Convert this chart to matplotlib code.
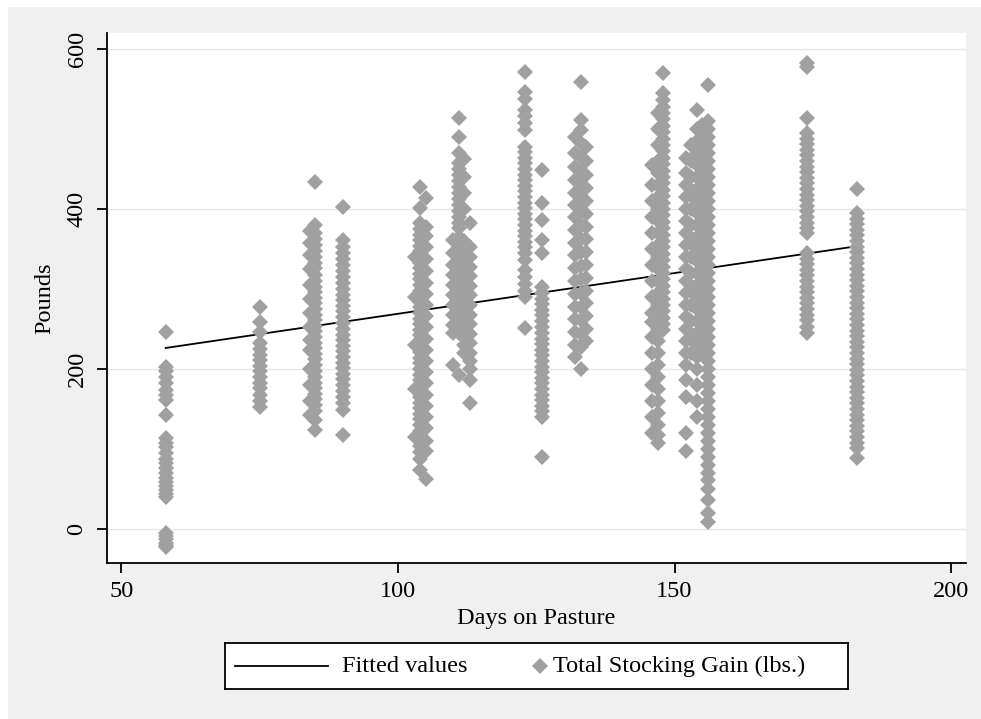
import matplotlib
matplotlib.use("Agg")
import matplotlib.pyplot as plt
from matplotlib.patches import Rectangle

plt.rcParams['font.family'] = ['Liberation Serif', 'DejaVu Serif']

# total stocking gain (lbs.) grouped by days on pasture
gain_58 = [246, 203, 197, 190, 183, 174, 167, 161, 142, 114, 108, 103, 95, 88, 82, 76,
           70, 64, 59, 54, 49, 44, 40, -5, -9, -13, -17, -20, -22]
gain_75 = [278, 259, 246, 232, 225, 218, 211, 204, 197, 190, 183, 176, 168, 160, 153]
gain_84 = [372, 358, 342, 325, 305, 288, 270, 252, 236, 224, 200, 180, 160, 142]
gain_85 = [434, 380, 370, 362, 355, 348, 340, 333, 326, 318, 310, 302, 296, 289, 282,
           275, 268, 261, 254, 247, 240, 233, 226, 219, 212, 205, 198, 190, 183, 176,
           169, 162, 155, 148, 136, 124]
gain_90 = [403, 361, 352, 345, 338, 330, 322, 315, 307, 300, 293, 286, 279, 272, 265,
           258, 250, 243, 236, 229, 222, 215, 208, 201, 194, 187, 180, 172, 165, 157,
           149, 117]
gain_103 = [340, 290, 230, 175, 115]
gain_104 = [428, 401, 382, 375, 368, 361, 354, 347, 340, 333, 326, 319, 312, 305, 298,
            291, 284, 277, 270, 263, 256, 249, 242, 235, 228, 221, 214, 207, 200, 193,
            186, 179, 172, 165, 158, 151, 144, 137, 130, 122, 113, 104, 96, 88, 74]
gain_105 = [414, 378, 366, 352, 338, 322, 308, 294, 280, 266, 252, 238, 224, 210, 196,
            182, 168, 154, 140, 126, 110, 98, 62]
gain_110 = [361, 345, 330, 318, 305, 292, 280, 268, 255, 245, 205]
gain_111 = [514, 490, 470, 458, 450, 442, 435, 428, 420, 412, 405, 398, 390, 383, 376,
            365, 355, 348, 340, 333, 326, 318, 310, 303, 296, 289, 282, 275, 268, 260,
            252, 245, 193]
gain_112 = [462, 440, 420, 400, 360, 350, 340, 330, 320, 310, 300, 290, 280, 270, 260,
            250, 240, 230, 220]
gain_113 = [382, 352, 340, 328, 316, 304, 292, 280, 268, 256, 244, 232, 220, 210, 200,
            186, 157]
gain_123 = [571, 546, 538, 524, 516, 508, 499, 478, 471, 464, 457, 450, 443, 436, 429,
            422, 415, 408, 401, 394, 387, 380, 373, 366, 359, 352, 345, 336, 324, 315,
            306, 298, 290, 251]
gain_126 = [449, 407, 386, 361, 345, 303, 295, 288, 281, 274, 267, 260, 252, 245, 238,
            231, 224, 217, 210, 203, 196, 189, 182, 175, 168, 161, 154, 147, 140, 90]
gain_132 = [490, 470, 452, 436, 420, 405, 390, 374, 358, 342, 326, 310, 294, 278, 262,
            246, 230, 215]
gain_133 = [559, 511, 499, 482, 465, 448, 431, 414, 397, 380, 363, 346, 329, 312, 295,
            278, 261, 244, 227, 200]
gain_134 = [478, 460, 443, 426, 410, 394, 378, 362, 346, 330, 314, 298, 282, 266, 250,
            235]
gain_146 = [455, 430, 410, 390, 370, 350, 330, 310, 290, 270, 259, 240, 220, 200, 180,
            160, 140, 120]
gain_147 = [520, 500, 480, 460, 445, 430, 415, 400, 385, 370, 355, 340, 325, 310, 295,
            280, 265, 250, 235, 220, 205, 190, 175, 160, 145, 130, 118, 108]
gain_148 = [570, 545, 536, 528, 520, 512, 504, 496, 488, 480, 472, 464, 456, 448, 440,
            432, 424, 416, 408, 400, 392, 384, 376, 368, 360, 352, 344, 336, 328, 320,
            312, 304, 296, 288, 280, 272, 264, 256, 249]
gain_152 = [464, 445, 430, 415, 400, 385, 370, 355, 340, 325, 310, 295, 280, 265, 250,
            235, 220, 205, 186, 165, 120, 97]
gain_153 = [480, 460, 440, 420, 400, 380, 360, 340, 320, 300, 280, 260, 240, 220]
gain_154 = [524, 500, 485, 470, 455, 440, 425, 410, 395, 380, 365, 350, 335, 320, 305,
            290, 275, 260, 245, 230, 215, 200, 180, 160, 140]
gain_155 = [505, 490, 475, 460, 445, 430, 415, 400, 385, 370, 355, 340, 325, 310, 295,
            280, 265, 250, 235, 220]
gain_156 = [555, 510, 500, 490, 480, 470, 460, 450, 440, 430, 420, 410, 400, 390, 380,
            370, 360, 350, 340, 330, 320, 310, 300, 290, 280, 270, 260, 250, 240, 230,
            220, 210, 200, 190, 180, 170, 160, 150, 140, 130, 120, 110, 100, 90, 80,
            70, 61, 50, 36, 20, 9]
gain_174 = [583, 578, 514, 495, 488, 481, 474, 467, 460, 453, 446, 439, 432, 425, 418,
            411, 404, 397, 390, 383, 376, 370, 345, 338, 331, 324, 317, 310, 303, 296,
            289, 282, 275, 268, 261, 253, 245]
gain_183 = [425, 395, 388, 381, 374, 367, 360, 353, 346, 339, 332, 325, 318, 311, 304,
            297, 290, 283, 276, 269, 262, 255, 248, 241, 234, 227, 220, 213, 206, 199,
            192, 185, 178, 171, 164, 157, 150, 143, 136, 129, 122, 115, 108, 101, 89]

pasture_days = [58, 75, 84, 85, 90, 103, 104, 105, 110, 111, 112, 113, 123, 126,
                132, 133, 134, 146, 147, 148, 152, 153, 154, 155, 156, 174, 183]
gain_groups = [gain_58, gain_75, gain_84, gain_85, gain_90, gain_103, gain_104,
               gain_105, gain_110, gain_111, gain_112, gain_113, gain_123, gain_126,
               gain_132, gain_133, gain_134, gain_146, gain_147, gain_148, gain_152,
               gain_153, gain_154, gain_155, gain_156, gain_174, gain_183]

# linear fit endpoints
fit_days = [58, 183]
fit_gain = [226.3, 353.5]

x_ticks = [50, 100, 150, 200]
y_ticks = [0, 200, 400, 600]

legend_labels = ['Fitted values', 'Total Stocking Gain (lbs.)']

days = []
gain = []
for d, g in zip(pasture_days, gain_groups):
    days += [d] * len(g)
    gain += g

marker_color = '#A0A0A0'
msize = 8.1
fs = 17.5

fig = plt.figure(figsize=(9.81, 7.19), dpi=100, facecolor='white')
fig.patches.append(Rectangle((8 / 981, 0), 1, 1 - 7 / 719, transform=fig.transFigure,
                             facecolor='#F0F0F0', edgecolor='none', zorder=-10))

ax = fig.add_axes([107 / 981, 1 - 563 / 719, (966 - 107) / 981, (563 - 33) / 719])
ax.set_facecolor('white')

ax.plot(fit_days, fit_gain, color='black', lw=1.3, zorder=2)
ax.plot(days, gain, linestyle='none', marker='D', markersize=msize,
        markerfacecolor=marker_color, markeredgewidth=0, zorder=3)

ax.set_xlim(47.38, 202.7)
ax.set_ylim(-42.5, 620)
ax.set_xticks(x_ticks)
ax.set_yticks(y_ticks)
ax.set_yticklabels([str(v) for v in y_ticks], rotation=90, va='center')
ax.yaxis.grid(True, color='#E6E6E6', lw=1)
ax.set_axisbelow(True)

for side in ['top', 'right']:
    ax.spines[side].set_visible(False)
for side in ['left', 'bottom']:
    ax.spines[side].set_linewidth(1.3)

ax.tick_params(axis='both', labelsize=fs, length=7, width=1.3, colors='black')
ax.tick_params(axis='y', pad=7)
ax.tick_params(axis='x', pad=6)

ax.set_xlabel('Days on Pasture', fontsize=fs, labelpad=4)
ax.set_ylabel('Pounds', fontsize=fs, labelpad=8)

# legend box below the plot, laid out in pixel units
lax = fig.add_axes([225 / 981, 1 - 689 / 719, 623 / 981, 46 / 719])
lax.set_xlim(0, 623)
lax.set_ylim(0, 46)
lax.set_xticks([])
lax.set_yticks([])
for s in lax.spines.values():
    s.set_linewidth(1.3)
    s.set_edgecolor('black')
lax.plot([10, 103], [23, 23], color='black', lw=1.3)
lax.text(117, 23, legend_labels[0], fontsize=fs, va='center', ha='left')
lax.plot([315], [23], linestyle='none', marker='D', markersize=msize,
         markerfacecolor=marker_color, markeredgewidth=0)
lax.text(328, 23, legend_labels[1], fontsize=fs, va='center', ha='left')

fig.savefig('out.png', dpi=100, facecolor=fig.get_facecolor())
